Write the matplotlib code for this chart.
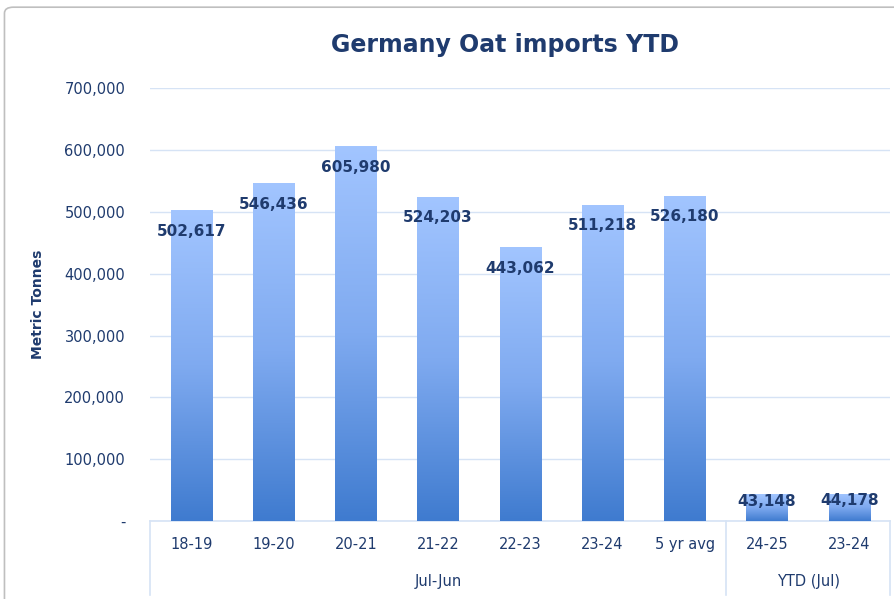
import matplotlib
matplotlib.use("Agg")
import matplotlib.pyplot as plt
import numpy as np
from matplotlib.patches import FancyBboxPatch

# data
categories = ["18-19", "19-20", "20-21", "21-22", "22-23", "23-24", "5 yr avg", "24-25", "23-24"]
values = [502617, 546436, 605980, 524203, 443062, 511218, 526180, 43148, 44178]
groups = ["Jul-Jun", "YTD (Jul)"]
group_sizes = [7, 2]
yticks = [0, 100000, 200000, 300000, 400000, 500000, 600000, 700000]

navy = "#1F3B6E"
grid_c = "#D6E3F5"

fig = plt.figure(figsize=(8.94, 5.99), dpi=100)
fig.patches.append(FancyBboxPatch((0.005, -0.02), 1.02, 1.008, boxstyle="round,pad=0,rounding_size=0.01",
                                  transform=fig.transFigure, fill=False, edgecolor="#BFBFBF", lw=1.2))

ax = fig.add_axes([0.168, 0.13, 0.828, 0.723])
x = np.arange(len(values))
bars = ax.bar(x, values, width=0.5, color="none", edgecolor="none", zorder=3)

# vertical gradient in each bar
grad = np.linspace(0, 1, 256).reshape(-1, 1)
cmap = matplotlib.colors.LinearSegmentedColormap.from_list("g", ["#3F7BCF", "#7FAAF0", "#A2C5FF"])
for b in bars:
    x0, w, h = b.get_x(), b.get_width(), b.get_height()
    im = ax.imshow(grad, extent=[x0, x0 + w, 0, h], origin="lower", aspect="auto", cmap=cmap, zorder=3)
    im.set_clip_path(b)

for xi, v in zip(x, values):
    off = min(34000, v * 0.25)
    ax.text(xi, v - off, f"{v:,}", ha="center", va="center", fontsize=11, fontweight="bold", color=navy, zorder=4)

ax.set_xlim(-0.5, len(values) - 0.5)
ax.set_ylim(0, 700000)
ax.set_yticks(yticks)
ax.set_yticklabels(["-"] + [f"{t:,}" for t in yticks[1:]], color=navy, fontsize=10.5)
ax.yaxis.grid(True, color=grid_c, lw=1)
ax.set_axisbelow(True)
ax.tick_params(axis="y", length=0, pad=18)
ax.set_xticks([])
for s in ["top", "right", "left"]:
    ax.spines[s].set_visible(False)
ax.spines["bottom"].set_color(grid_c)
ax.spines["bottom"].set_linewidth(1.2)
ax.set_ylabel("Metric Tonnes", color=navy, fontsize=10, fontweight="bold", labelpad=14)

# multi-level category axis
trans = ax.get_xaxis_transform()
for xi, c in zip(x, categories):
    ax.text(xi, -0.055, c, transform=trans, ha="center", va="center", fontsize=10.5, color=navy)
start = 0
edges = [-0.5]
for g, n in zip(groups, group_sizes):
    mid = start + (n - 1) / 2
    ax.text(mid, -0.14, g, transform=trans, ha="center", va="center", fontsize=10.5, color=navy)
    start += n
    edges.append(start - 0.5)
for e in edges:
    ax.plot([e, e], [0, -0.17], transform=trans, color=grid_c, lw=1.2, clip_on=False)

fig.text(0.565, 0.925, "Germany Oat imports YTD", ha="center", va="center", fontsize=17,
         fontweight="bold", color=navy)

fig.savefig("out.png", dpi=100)
